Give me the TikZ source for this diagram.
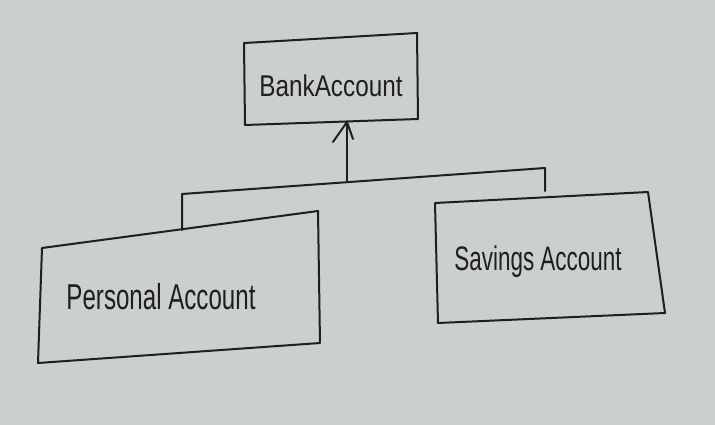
\documentclass[tikz,border=0pt]{standalone}
\usepackage{fontspec}
\setmainfont{Liberation Sans}
\begin{document}
\begin{tikzpicture}[x=1pt,y=-1pt,
  ink/.style={draw=black!88, line width=2pt, line join=round, line cap=round},
  lbl/.style={text=black!88, inner sep=0pt}]
\fill[fill={rgb,255:red,203;green,207;blue,206}] (0,0) rectangle (715,425);
\useasboundingbox (0,0) rectangle (715,425);

% corners of the three class boxes
\coordinate (b1) at (244,43);  \coordinate (b2) at (417,33);
\coordinate (b3) at (418,119); \coordinate (b4) at (245,125);
\coordinate (p1) at (42,248);  \coordinate (p2) at (318,211);
\coordinate (p3) at (320,343); \coordinate (p4) at (38,363);
\coordinate (s1) at (435,203); \coordinate (s2) at (648,192);
\coordinate (s3) at (665,313); \coordinate (s4) at (438,323);

\draw[ink] (b1) -- (262,42) -- (b2) -- (b3) -- (b4) -- cycle;
\draw[ink] (p1) -- (p2) -- (p3) -- (p4) -- cycle;
\draw[ink] (s1) -- (s2) -- (s3) -- (s4) -- cycle;

\node[lbl, font=\fontsize{30}{32}\selectfont, xscale=0.81] (bank) at (331,86) {BankAccount};
\node[lbl, font=\fontsize{36}{38}\selectfont, xscale=0.67] (personal) at (161,297) {Personal Account};
\node[lbl, font=\fontsize{34}{36}\selectfont, xscale=0.66] (savings) at (538,262) {Savings Account};

% inheritance tree
\coordinate (pt) at (182,230);
\coordinate (pc) at (182,194);
\coordinate (sc) at (545,168);
\coordinate (st) at (545,191);
\coordinate (mid) at (347,182);
\coordinate (tip) at (347,122);
\draw[ink] (pt) -- (pc) -- (sc) -- (st);
\draw[ink] (mid) -- (tip);
\draw[ink] (333,142) -- (tip) -- (353,139);
\end{tikzpicture}
\end{document}
